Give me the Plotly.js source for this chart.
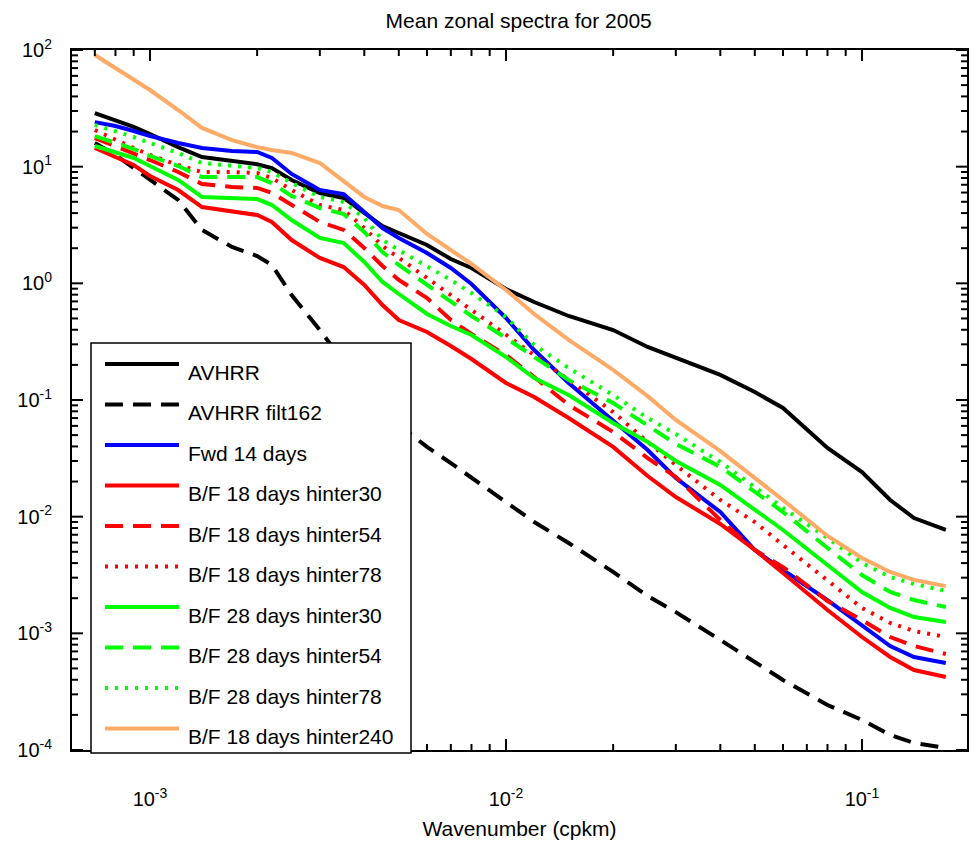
<!DOCTYPE html>
<html><head><meta charset="utf-8">
<script src="https://cdn.plot.ly/plotly-3.0.1.min.js"></script>
<style>body{margin:0;background:#fff}</style>
</head><body><div id="chart" style="width:975px;height:845px"></div>
<script>
// Wavenumber (cpkm)
const wavenumber = [7.0e-4, 8e-4, 9e-4, 1.0e-3, 1.2e-3, 1.4e-3, 1.7e-3, 2.0e-3, 2.2e-3, 2.5e-3, 3e-3, 3.5e-3, 4e-3, 4.5e-3, 5e-3, 6e-3, 7e-3, 8e-3, 1e-2, 1.2e-2, 1.5e-2, 2e-2, 2.5e-2, 3e-2, 4e-2, 5e-2, 6e-2, 8e-2, 0.1, 0.12, 0.14, 0.172];

const avhrr = [28.8, 25.1, 21.9, 19.05, 14.7, 12.1, 11.2, 10.5, 9.74, 7.69, 5.95, 5.39, 4.01, 3.10, 2.70, 2.13, 1.617, 1.354, 0.894, 0.692, 0.525, 0.398, 0.285, 0.229, 0.164, 0.117, 0.0854, 0.0388, 0.0241, 0.0139, 0.00974, 0.00769];
const avhrrFilt162 = [15.95, 12.6, 9.74, 7.69, 5.18, 2.87, 2.05, 1.715, 1.436, 0.794, 0.398, 0.212, 0.1345, 0.0906, 0.0611, 0.0396, 0.0288, 0.0215, 0.0131, 0.0090, 0.00595, 0.00336, 0.00209, 0.00152, 0.000877, 0.000568, 0.000398, 0.000243, 0.000181, 0.0001345, 0.0001148, 0.000104];
const fwd14 = [24.1, 22.3, 20.2, 18.3, 15.95, 14.45, 13.6, 13.36, 11.87, 8.66, 6.31, 5.83, 4.09, 2.98, 2.45, 1.82, 1.354, 0.987, 0.505, 0.268, 0.140, 0.0674, 0.0373, 0.0215, 0.01096, 0.00518, 0.00349, 0.00193, 0.00118, 0.000779, 0.000627, 0.000557];
const bf18h30 = [14.45, 12.1, 10.33, 8.32, 6.31, 4.51, 4.17, 3.85, 3.36, 2.35, 1.649, 1.380, 0.968, 0.652, 0.485, 0.383, 0.290, 0.2246, 0.140, 0.1061, 0.0701, 0.0396, 0.0223, 0.01474, 0.00865, 0.00518, 0.00329, 0.001585, 0.00093, 0.000627, 0.000485, 0.000422];
const bf18h54 = [17.6, 15.04, 13.1, 11.4, 9.0, 7.10, 6.70, 6.57, 5.95, 4.69, 3.36, 2.87, 2.01, 1.408, 1.068, 0.749, 0.485, 0.368, 0.243, 0.1575, 0.0906, 0.0532, 0.0318, 0.0219, 0.00936, 0.00518, 0.00370, 0.00189, 0.00130, 0.00093, 0.000779, 0.000665];
const bf18h78 = [20.6, 16.9, 14.45, 12.6, 10.33, 9.0, 9.0, 8.82, 8.0, 6.31, 4.69, 4.25, 2.98, 2.09, 1.649, 1.111, 0.794, 0.591, 0.361, 0.243, 0.1484, 0.0789, 0.0437, 0.0277, 0.0139, 0.0090, 0.00572, 0.00287, 0.00165, 0.001226, 0.001047, 0.00093];
const bf28h30 = [15.04, 13.36, 11.87, 10.13, 7.69, 5.50, 5.39, 5.28, 4.69, 3.49, 2.45, 2.216, 1.523, 1.027, 0.810, 0.546, 0.431, 0.361, 0.2336, 0.1544, 0.1104, 0.0635, 0.0437, 0.0300, 0.01869, 0.0114, 0.00769, 0.00385, 0.00226, 0.00165, 0.00138, 0.00125];
const bf28h54 = [18.3, 15.95, 14.17, 12.35, 10.13, 8.15, 8.15, 8.15, 7.24, 5.61, 4.42, 3.93, 2.754, 1.856, 1.436, 0.968, 0.692, 0.525, 0.340, 0.2336, 0.1484, 0.0943, 0.0599, 0.0420, 0.0267, 0.01628, 0.01096, 0.00539, 0.00316, 0.00226, 0.00193, 0.00168];
const bf28h78 = [22.8, 20.2, 17.96, 15.95, 13.1, 10.75, 10.13, 9.74, 9.0, 7.24, 5.50, 4.98, 3.63, 2.35, 1.93, 1.408, 1.068, 0.826, 0.515, 0.296, 0.188, 0.1104, 0.0701, 0.0511, 0.0294, 0.01796, 0.01187, 0.00657, 0.00401, 0.00304, 0.00265, 0.00231];
const bf18h240 = [90.6, 70.1, 55.3, 45.4, 30.6, 21.5, 16.9, 14.7, 13.9, 13.1, 10.75, 7.54, 5.50, 4.60, 4.25, 2.65, 1.93, 1.465, 0.877, 0.546, 0.327, 0.181, 0.108, 0.0674, 0.0365, 0.0215, 0.0139, 0.00683, 0.00442, 0.00336, 0.00287, 0.00254];

const seriesNames = ['AVHRR', 'AVHRR filt162', 'Fwd 14 days', 'B/F 18 days hinter30', 'B/F 18 days hinter54', 'B/F 18 days hinter78', 'B/F 28 days hinter30', 'B/F 28 days hinter54', 'B/F 28 days hinter78', 'B/F 18 days hinter240'];
const seriesValues = [avhrr, avhrrFilt162, fwd14, bf18h30, bf18h54, bf18h78, bf28h30, bf28h54, bf28h78, bf18h240];
const seriesColors = ['#000000', '#000000', '#0000ff', '#ff0000', '#ff0000', '#ff0000', '#00ff00', '#00ff00', '#00ff00', '#ffaa66'];
const seriesDash = ['solid', 'dash', 'solid', 'solid', 'dash', 'dot', 'solid', 'dash', 'dot', 'solid'];

const xTickVals = [1e-3, 1e-2, 1e-1];
const xTickText = ['10<sup>-3</sup>', '10<sup>-2</sup>', '10<sup>-1</sup>'];
const yTickVals = [1e-4, 1e-3, 1e-2, 1e-1, 1, 10, 100];
const yTickText = ['10<sup>-4</sup>', '10<sup>-3</sup>', '10<sup>-2</sup>', '10<sup>-1</sup>', '10<sup>0</sup>', '10<sup>1</sup>', '10<sup>2</sup>'];

const FONT = 'Liberation Sans, Arial, sans-serif';
const dashPattern = {solid: 'solid', dash: '18px,10px', dot: '3px,7px'};
const xRangeLog = [-3.219, -0.705];
const yRangeLog = [-4, 2];

function minorVals(e0, e1) {
  const out = [];
  for (let e = e0; e <= e1; e++) for (let m = 2; m <= 9; m++) out.push(m * Math.pow(10, e));
  return out;
}

// plot area in pixels
const L = 72, R = 967, T = 50, B = 750;
const W = R - L, H = B - T;
const px = v => (v - L) / W;
const py = v => (B - v) / H;
const xPxPerDec = W / (xRangeLog[1] - xRangeLog[0]);
const yPxPerDec = H / (yRangeLog[1] - yRangeLog[0]);
const inX = v => Math.log10(v) >= xRangeLog[0] - 1e-9 && Math.log10(v) <= xRangeLog[1] + 1e-9;
const inY = v => Math.log10(v) >= yRangeLog[0] - 1e-9 && Math.log10(v) <= yRangeLog[1] + 1e-9;

// Inside, mirrored tick marks, drawn through the axes' own log scales
const tx = [], ty = [];
const xLo = Math.pow(10, xRangeLog[0]), xHi = Math.pow(10, xRangeLog[1]);
const yLo = Math.pow(10, yRangeLog[0]), yHi = Math.pow(10, yRangeLog[1]);
function addXTicks(vals, len) {
  const f = Math.pow(10, len / yPxPerDec);
  vals.filter(inX).forEach(v => {
    tx.push(v, v, null, v, v, null);
    ty.push(yLo, yLo * f, null, yHi, yHi / f, null);
  });
}
function addYTicks(vals, len) {
  const f = Math.pow(10, len / xPxPerDec);
  vals.filter(inY).forEach(v => {
    tx.push(xLo, xLo * f, null, xHi, xHi / f, null);
    ty.push(v, v, null, v, v, null);
  });
}
addXTicks(xTickVals, 11);
addXTicks(minorVals(-4, -1), 6);
addYTicks(yTickVals, 11);
addYTicks(minorVals(-4, 1), 6);

const traces = seriesNames.map((n, i) => ({
  x: wavenumber, y: seriesValues[i], name: n, type: 'scatter', mode: 'lines',
  line: {color: seriesColors[i], width: 4, dash: dashPattern[seriesDash[i]]},
  showlegend: false
})).concat([{
  x: tx, y: ty, type: 'scatter', mode: 'lines', connectgaps: false,
  line: {color: '#000', width: 2, simplify: false}, showlegend: false, hoverinfo: 'skip', name: 'ticks'
}]);

// Legend box (drawn over the curves, as in the original)
const shapes = [];
shapes.push({type: 'rect', xref: 'paper', yref: 'paper', x0: px(91), x1: px(411), y0: py(753), y1: py(343),
  fillcolor: '#ffffff', line: {color: '#000000', width: 1.5}, layer: 'above'});
const annotations = [];
seriesNames.forEach((n, i) => {
  const yy = 364 + 40.5 * i;
  shapes.push({type: 'line', xref: 'paper', yref: 'paper', x0: px(105), x1: px(179), y0: py(yy), y1: py(yy),
    line: {color: seriesColors[i], width: 4, dash: dashPattern[seriesDash[i]]}, layer: 'above'});
  annotations.push({xref: 'paper', yref: 'paper', x: px(186), y: py(yy + 8), xanchor: 'left', yanchor: 'middle',
    text: n, showarrow: false, font: {family: FONT, size: 21, color: '#000'}});
});

const axisCommon = {
  type: 'log', showline: true, linecolor: '#000', linewidth: 2, mirror: true,
  ticks: '', showgrid: false, zeroline: false, tickmode: 'array',
  tickfont: {family: FONT, size: 20, color: '#000'}
};

const layout = {
  width: 975, height: 845,
  margin: {l: 72, r: 8, t: 50, b: 95},
  paper_bgcolor: '#fff', plot_bgcolor: '#fff',
  showlegend: false,
  title: {text: 'Mean zonal spectra for 2005', x: 0.532, xanchor: 'center', y: 0.975, yanchor: 'middle',
    font: {family: FONT, size: 21, color: '#000'}},
  xaxis: Object.assign({}, axisCommon, {
    range: xRangeLog, tickvals: xTickVals, ticktext: xTickText, ticklabelstandoff: 30,
    title: {text: 'Wavenumber (cpkm)', standoff: 12, font: {family: FONT, size: 21, color: '#000'}}
  }),
  yaxis: Object.assign({}, axisCommon, {
    range: yRangeLog, tickvals: yTickVals, ticktext: yTickText, ticklabelstandoff: 14
  }),
  shapes: shapes,
  annotations: annotations
};

Plotly.newPlot('chart', traces, layout, {staticPlot: true, displayModeBar: false});
</script>
</body></html>
